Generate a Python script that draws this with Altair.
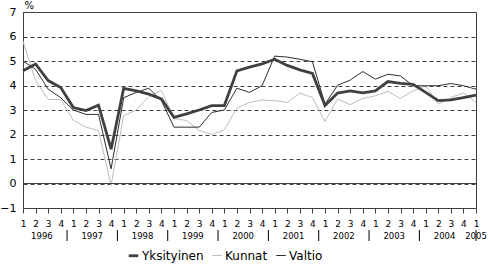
import altair as alt
import pandas as pd

years = ["1996", "1997", "1998", "1999", "2000", "2001", "2002", "2003", "2004"]
last_year = "2005"
series_names = ["Yksityinen", "Kunnat", "Valtio"]

yksityinen = [4.6, 4.88, 4.2, 3.92, 3.1, 2.98, 3.2, 1.4, 3.88, 3.78,
              3.65, 3.45, 2.7, 2.84, 3.0, 3.18, 3.18, 4.6, 4.75, 4.88,
              5.07, 4.82, 4.64, 4.49, 3.18, 3.69, 3.78, 3.7, 3.78, 4.16,
              4.09, 4.05, 3.72, 3.38, 3.41, 3.51, 3.61]
kunnat = [5.81, 4.2, 3.43, 3.43, 2.58, 2.3, 2.16, -0.08, 2.77, 3.0,
          3.55, 3.8, 2.65, 2.57, 2.16, 2.0, 2.19, 3.08, 3.31, 3.41,
          3.38, 3.31, 3.69, 3.51, 2.53, 3.45, 3.22, 3.47, 3.58, 3.76,
          3.47, 3.78, 3.99, 3.24, 3.51, 3.69, 3.31]
valtio = [5.0, 4.66, 3.85, 3.5, 3.0, 2.82, 2.82, 0.6, 3.5, 3.72,
          3.89, 3.38, 2.3, 2.3, 2.3, 2.9, 3.0, 3.89, 3.72, 3.99,
          5.2, 5.16, 5.07, 4.97, 3.24, 4.01, 4.22, 4.57, 4.26, 4.46,
          4.39, 3.99, 3.99, 3.99, 4.08, 3.99, 3.85]
y_ticks = [-1, 0, 1, 2, 3, 4, 5, 6, 7]
zero_line = [0]

colors = ["#404040", "#bdbdbd", "#2e2e2e"]
widths = [2.8, 1, 1]

n = len(yksityinen)
rows = []
for name, vals in zip(series_names, [yksityinen, kunnat, valtio]):
    for i, v in enumerate(vals):
        rows.append({"t": i, "value": v, "series": name})
df = pd.DataFrame(rows)

year_df = pd.DataFrame({
    "pos": [4 * k + 1.5 for k in range(len(years))] + [n - 1],
    "label": years + [last_year],
})
sep_df = pd.DataFrame({"pos": [4 * k + 3.5 for k in range(len(years) - 1)] + [n - 1]})
zero_df = pd.DataFrame({"v": zero_line})

FONT = "DejaVu Sans"

xscale = alt.Scale(domain=[0, n - 1], nice=False, zero=False)
yscale = alt.Scale(domain=[-1, 7], nice=False, zero=False)

x_axis = alt.Axis(
    values=list(range(n)), labelExpr="'' + ((datum.value % 4) + 1)",
    tickSize=5, tickColor="#404040", domain=False, grid=False,
    labelFontSize=9, labelFont=FONT, labelColor="#000000", labelPadding=6,
    labelFlush=False, labelOverlap=False, labelBound=False, title=None)
y_axis = alt.Axis(
    values=y_ticks, grid=True, gridDash=[4, 3], gridColor="#404040",
    gridOpacity=1, tickSize=0, domain=False, labelPadding=7,
    labelOverlap=False, labelFlush=False,
    labelFontSize=11, labelFont=FONT, labelColor="#000000",
    title="%", titleAngle=0, titleX=1, titleY=-2, titleAlign="left",
    titleBaseline="bottom", titleFontSize=10, titleFontWeight="normal",
    titleFont=FONT)

x_enc = alt.X("t:Q", scale=xscale, axis=x_axis)
y_enc = alt.Y("value:Q", scale=yscale, axis=y_axis)

color_enc = alt.Color("series:N", scale=alt.Scale(domain=series_names, range=colors),
                      legend=alt.Legend(title=None))
width_enc = alt.StrokeWidth("series:N",
                            scale=alt.Scale(type="ordinal", domain=series_names, range=widths),
                            legend=alt.Legend(title=None))

layers = []
for name in ["Kunnat", "Valtio", "Yksityinen"]:
    layers.append(
        alt.Chart(df).transform_filter(alt.datum.series == name)
        .mark_line(strokeJoin="miter")
        .encode(x=x_enc, y=y_enc, color=color_enc, strokeWidth=width_enc)
    )

zero_rule = alt.Chart(zero_df).mark_rule(color="#404040", strokeWidth=1).encode(
    y=alt.Y("v:Q", scale=yscale, axis=y_axis))

year_text = alt.Chart(year_df).mark_text(fontSize=8.5, font=FONT, color="#000000",
                                         baseline="middle").encode(
    x=alt.X("pos:Q", scale=xscale, axis=x_axis), y=alt.value(223.5), text="label:N")
sep_rules = alt.Chart(sep_df).mark_rule(color="#000000", strokeWidth=1).encode(
    x=alt.X("pos:Q", scale=xscale, axis=x_axis), y=alt.value(218), y2=alt.value(229))

chart = alt.layer(*layers, zero_rule, year_text, sep_rules).properties(
    width=453, height=196,
    padding={"left": 23, "top": 12, "right": 12, "bottom": 60},
    autosize="none",
).configure_view(stroke="#404040", strokeWidth=1).configure_legend(
    orient="none", legendX=104, legendY=237, direction="horizontal",
    symbolType="stroke", symbolSize=90, labelFontSize=12, labelFont=FONT,
    labelColor="#000000", columnPadding=6, labelOffset=2, padding=0,
    symbolStrokeColor="#404040"
)

chart.save("out.html", embed_options={"renderer": "svg", "actions": False})
